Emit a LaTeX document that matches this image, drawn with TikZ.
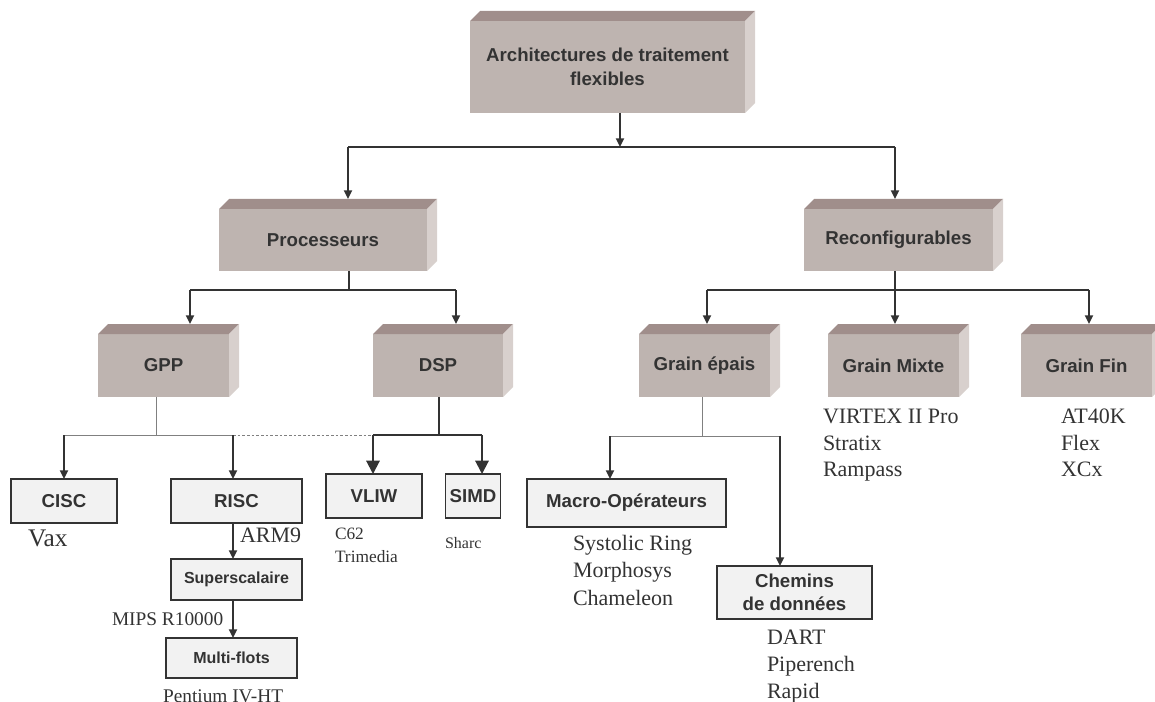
\documentclass[tikz,border=0pt]{standalone}
\usepackage{fontspec}
\setmainfont{Liberation Serif}
\setsansfont{Liberation Sans}
\usetikzlibrary{arrows.meta,calc}
\definecolor{frontc}{HTML}{BEB4B0}
\definecolor{topc}{HTML}{A08E8B}
\definecolor{sidec}{HTML}{D8D0CD}
\definecolor{flatc}{HTML}{F2F2F2}
\definecolor{ink}{HTML}{333333}
\definecolor{thinc}{HTML}{808080}
\newcommand\mkcube[1]{%
 \fill[topc] (#1.north west) -- ++(10,-10) -- ($(#1.north east)+(10,-10)$) -- (#1.north east) -- cycle;
 \fill[sidec] (#1.north east) -- ++(10,-10) -- ($(#1.south east)+(10,-10)$) -- (#1.south east) -- cycle;
 \coordinate (#1t) at ($(#1.north)+(0,-10)$);}
\begin{document}
\begin{tikzpicture}[x=0.75pt,y=-0.75pt,
  cube/.style={fill=frontc, text=ink, font=\sffamily\bfseries\fontsize{14}{18}\selectfont, inner sep=0pt, outer sep=0pt, align=center},
  flat/.style={draw=ink, line width=0.8pt, fill=flatc, text=ink, font=\sffamily\bfseries\fontsize{14}{17}\selectfont, inner sep=0pt, outer sep=0pt, align=center, minimum height=33pt},
  dk/.style={draw=ink, line width=1.5pt},
  lt/.style={draw=thinc, line width=0.75pt},
  arr/.style={-{Triangle[width=6pt,length=6.5pt]}},
  bigarr/.style={-{Triangle[width=10pt,length=10pt]}},
  lst/.style={font=\fontsize{16.5}{20.3}\selectfont, text=ink, inner sep=0pt, outer sep=0pt, anchor=north west, align=left}]
\useasboundingbox (0,0) rectangle (1155,702);
% 3D boxes
\node[cube, minimum width=206.25pt, minimum height=69pt] (top) at (607.5,67) {Architectures de traitement\\flexibles};
\node[cube, minimum width=156pt, minimum height=46.5pt] (proc) at (323,240) {Processeurs};
\node[cube, minimum width=141.75pt, minimum height=46.5pt] (reconf) at (898.5,240) {Reconfigurables};
\node[cube, minimum width=98.25pt, minimum height=47.25pt] (gpp) at (163.5,365.5) {GPP};
\node[cube, minimum width=97.5pt, minimum height=47.25pt] (dsp) at (438,365.5) {DSP};
\node[cube, minimum width=98.25pt, minimum height=47.25pt] (epais) at (704.5,365.5) {Grain épais};
\node[cube, minimum width=98.25pt, minimum height=47.25pt] (mixte) at (893.5,365.5) {Grain Mixte};
\node[cube, minimum width=98.25pt, minimum height=47.25pt] (fin) at (1086.5,365.5) {Grain Fin};
\mkcube{top}\mkcube{proc}\mkcube{reconf}\mkcube{gpp}\mkcube{dsp}\mkcube{epais}\mkcube{mixte}\mkcube{fin}
% flat boxes
\node[flat, minimum width=79.5pt] (cisc) at (64,501) {CISC};
\node[flat, minimum width=98.25pt] (risc) at (236.5,501) {RISC};
\node[flat, minimum width=72pt] (vliw) at (374,496) {VLIW};
\node[flat, minimum width=41.25pt] (simd) at (473,496) {SIMD};
\node[flat, minimum width=98.25pt, minimum height=30.75pt, font=\sffamily\bfseries\fontsize{12}{14}\selectfont] (super) at (236.5,579.5) {Superscalaire};
\node[flat, minimum width=98.25pt, minimum height=30pt, font=\sffamily\bfseries\fontsize{12}{14}\selectfont] (multi) at (231.5,658) {Multi-flots};
\node[flat, minimum width=149.25pt, minimum height=36pt] (macro) at (626.5,503) {Macro-Opérateurs};
\node[flat, minimum width=116.25pt, minimum height=39.75pt] (chemins) at (794.5,592.5) {Chemins\\de données};
% junctions
\coordinate (j0) at (620,147); \coordinate (jP) at (348,147); \coordinate (jR) at (895,147);
\coordinate (p0) at (349,290); \coordinate (pG) at (190,290); \coordinate (pD) at (456,290);
\coordinate (r0) at (895,290); \coordinate (rE) at (707,290); \coordinate (rF) at (1089,290);
\coordinate (g0) at (156,435); \coordinate (gC) at (64,435); \coordinate (gR) at (233,435);
\coordinate (d0) at (439,435); \coordinate (dV) at (373,435); \coordinate (dS) at (482,435);
\coordinate (e0) at (702,436); \coordinate (eM) at (610,436); \coordinate (eC) at (780,436);
% connectors
\draw[dk,arr] (top.south -| j0) -- (j0);
\draw[dk] (jP) -- (jR);
\draw[dk,arr] (jP) -- (proct -| jP);
\draw[dk,arr] (jR) -- (reconft -| jR);
\draw[dk] (proc.south -| p0) -- (p0);
\draw[dk] (pG) -- (pD);
\draw[dk,arr] (pG) -- (gppt -| pG);
\draw[dk,arr] (pD) -- (dspt -| pD);
\draw[dk] (reconf.south -| r0) -- (r0);
\draw[dk] (rE) -- (rF);
\draw[dk,arr] (rE) -- (epaist -| rE);
\draw[dk,arr] (r0) -- (mixtet -| r0);
\draw[dk,arr] (rF) -- (fint -| rF);
\draw[lt] (gpp.south -| g0) -- (g0);
\draw[lt] (gC) -- (gR);
\draw[lt, dash pattern=on 2pt off 1.5pt] (gR) -- (dV);
\draw[dk,arr] (gC) -- (cisc.north -| gC);
\draw[dk,arr] (gR) -- (risc.north -| gR);
\draw[dk] (dsp.south -| d0) -- (d0);
\draw[dk] (dV) -- (dS);
\draw[dk,bigarr] (dV) -- (vliw.north -| dV);
\draw[dk,bigarr] (dS) -- (simd.north -| dS);
\draw[dk,arr] (risc.south -| gR) -- (super.north -| gR);
\draw[dk,arr] (super.south -| gR) -- (multi.north -| gR);
\draw[lt] (epais.south -| e0) -- (e0);
\draw[lt] (eM) -- (eC);
\draw[dk,arr] (eM) -- (macro.north -| eM);
\draw[dk,arr] (eC) -- (chemins.north -| eC);
% text lists
\node[lst, font=\fontsize{19}{22}\selectfont] (vax) at (28,530) {Vax};
\node[lst] (arm) at (240,528) {ARM9};
\node[lst, font=\fontsize{14.5}{17}\selectfont] (mips) at (112,613) {MIPS R10000};
\node[lst, font=\fontsize{14.5}{17}\selectfont] (pent) at (163,690) {Pentium IV-HT};
\node[lst, font=\fontsize{13}{17}\selectfont] (c62) at (335,528) {C62\\Trimedia};
\node[lst, font=\fontsize{12}{14}\selectfont] (sharc) at (445,537) {Sharc};
\node[lst, font=\fontsize{16.5}{20.6}\selectfont] (sys) at (573,535) {Systolic Ring\\Morphosys\\Chameleon};
\node[lst] (dart) at (767,630) {DART\\Piperench\\Rapid};
\node[lst, font=\fontsize{16.5}{20}\selectfont] (virt) at (823,409) {VIRTEX II Pro\\Stratix\\Rampass};
\node[lst, font=\fontsize{16.5}{20}\selectfont] (at) at (1061,409) {AT40K\\Flex\\XCx};
\end{tikzpicture}
\end{document}
